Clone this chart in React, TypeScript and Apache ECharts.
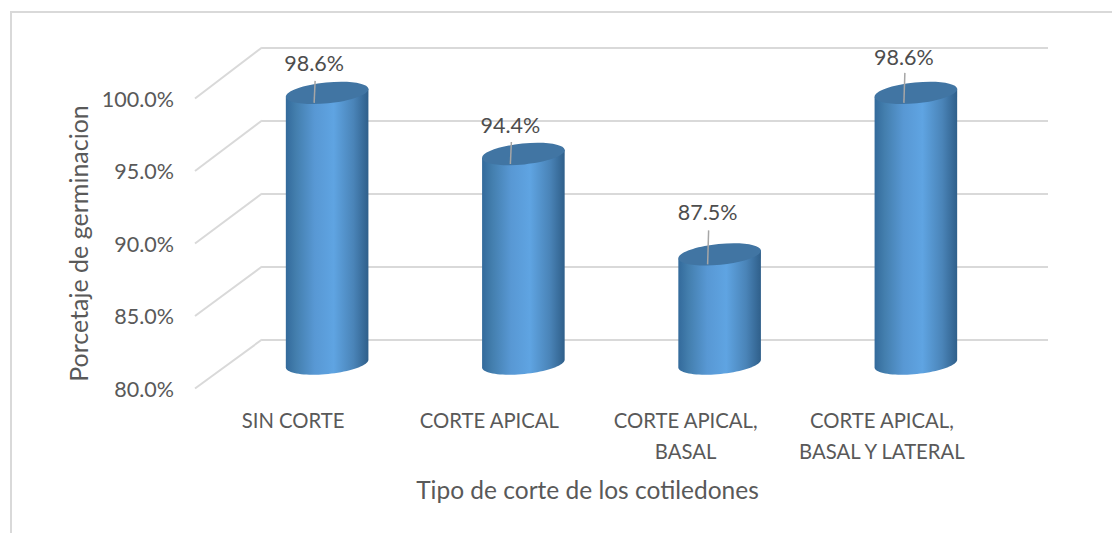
import React, { useEffect, useRef } from "react";
import * as echarts from "echarts";

const categories = ["SIN CORTE", "CORTE APICAL", "CORTE APICAL,\nBASAL", "CORTE APICAL,\nBASAL Y LATERAL"];
const germination = [98.6, 94.4, 87.5, 98.6];
const valueLabels = ["98.6%", "94.4%", "87.5%", "98.6%"];
const wallLevels = [80, 85, 90, 95, 100];
const labelDx = [-13, -13, -12, -12];
const labelDy = [-30, -29, -42, -36];
const leaderTop = [-12, -12, -24, -20];

const FONT = "Lato, 'Open Sans', sans-serif";
const TEXT = "#595959";
const GRID_COLOR = "#d9d9d9";
const FRONT = { left: 195, top: 98.5, width: 785, height: 290 };
const BACK = { left: 262, top: 47.5, width: 786, height: 292 };
const MID = { left: 229, top: 72.5, width: 785, height: 291 };
const RX = 41.5;
const RY = 10.5;
const TILT = 0.1;

function ellipsePoint(cx: number, cy: number, t: number) {
  const ax = RX * Math.cos(t);
  const ay = RY * Math.sin(t);
  return [cx + ax * Math.cos(TILT) + ay * Math.sin(TILT), cy - ax * Math.sin(TILT) + ay * Math.cos(TILT)];
}

function renderBar(params: any, api: any) {
  const i = api.value(0);
  const v = api.value(1);
  const top = api.coord([i, v]);
  const base = api.coord([i, 80]);
  const pts: number[][] = [];
  for (let k = 0; k <= 40; k++) pts.push(ellipsePoint(base[0], base[1], (Math.PI * k) / 40));
  pts.push(ellipsePoint(top[0], top[1], Math.PI));
  pts.push(ellipsePoint(top[0], top[1], 0));
  const lx = top[0] + labelDx[i];
  return {
    type: "group",
    children: [
      {
        type: "polygon",
        shape: { points: pts },
        style: {
          fill: new echarts.graphic.LinearGradient(0, 0, 1, 0, [
            { offset: 0, color: "#336a9b" },
            { offset: 0.12, color: "#437ead" },
            { offset: 0.35, color: "#5898d4" },
            { offset: 0.58, color: "#5fa4e2" },
            { offset: 0.82, color: "#4a84b8" },
            { offset: 1, color: "#2f5f8a" },
          ]),
        },
      },
      {
        type: "ellipse",
        x: top[0],
        y: top[1],
        rotation: TILT,
        shape: { cx: 0, cy: 0, rx: RX, ry: RY },
        style: { fill: "#4175a3" },
      },
      {
        type: "line",
        shape: { x1: lx, y1: top[1] + 10, x2: lx + 1, y2: top[1] + leaderTop[i] },
        style: { stroke: "#a6a6a6", lineWidth: 1.5 },
      },
      {
        type: "text",
        x: lx,
        y: top[1] + labelDy[i],
        style: {
          text: valueLabels[i],
          font: `21.5px ${FONT}`,
          fill: "#4d4d4d",
          align: "center",
          verticalAlign: "middle",
        },
      },
    ],
  };
}

function renderDiagonal(params: any, api: any) {
  const v = api.value(0);
  const back = api.coord([0, v]);
  const frontY = FRONT.top + ((100 - v) / 20) * FRONT.height;
  return {
    type: "line",
    shape: { x1: back[0], y1: back[1], x2: FRONT.left, y2: frontY },
    style: { stroke: GRID_COLOR, lineWidth: 2 },
  };
}

export default function App() {
  const ref = useRef<HTMLDivElement>(null);
  useEffect(() => {
    document.body.style.margin = "0";
    const chart = echarts.init(ref.current!, undefined, { renderer: "svg" });
    chart.setOption({
      animation: false,
      backgroundColor: "#ffffff",
      textStyle: { fontFamily: FONT },
      graphic: [
        {
          type: "polyline",
          shape: { points: [[11, 533], [11, 12], [1112, 12]] },
          style: { stroke: GRID_COLOR, fill: "none", lineWidth: 2 },
          silent: true,
        },
      ],
      grid: [
        { ...FRONT, containLabel: false },
        { ...BACK, containLabel: false },
        { ...MID, containLabel: false },
      ],
      xAxis: [
        {
          type: "category",
          gridIndex: 0,
          data: categories,
          name: "Tipo de corte de los cotiledones",
          nameLocation: "middle",
          nameGap: 88,
          nameTextStyle: { fontSize: 24.5, color: TEXT, fontFamily: FONT },
          axisLine: { show: false },
          axisTick: { show: false },
          axisLabel: { fontSize: 20.3, color: TEXT, margin: 16, lineHeight: 31, fontFamily: FONT, interval: 0 },
        },
        { type: "value", gridIndex: 1, min: 0, max: 1, show: false, splitLine: { show: false } },
        { type: "category", gridIndex: 2, data: categories, show: false },
      ],
      yAxis: [
        {
          type: "value",
          gridIndex: 0,
          min: 80,
          max: 100,
          interval: 5,
          name: "Porcetaje de germinacion",
          nameLocation: "middle",
          nameGap: 104,
          nameRotate: 90,
          nameTextStyle: { fontSize: 25, color: TEXT, fontFamily: FONT },
          axisLine: { show: false },
          axisTick: { show: false },
          splitLine: { show: false },
          axisLabel: {
            fontSize: 21.5,
            color: TEXT,
            margin: 21,
            fontFamily: FONT,
            formatter: (v: number) => v.toFixed(1) + "%",
          },
        },
        {
          type: "value",
          gridIndex: 1,
          min: 80,
          max: 100,
          interval: 5,
          axisLine: { show: false },
          axisTick: { show: false },
          axisLabel: { show: false },
          splitLine: { show: true, lineStyle: { color: GRID_COLOR, width: 2 } },
        },
        { type: "value", gridIndex: 2, min: 80, max: 100, interval: 5, show: false, splitLine: { show: false } },
      ],
      series: [
        {
          type: "custom",
          xAxisIndex: 1,
          yAxisIndex: 1,
          z: 1,
          data: wallLevels.map((v) => [v]),
          encode: { y: 0 },
          renderItem: renderDiagonal,
          silent: true,
        },
        {
          type: "custom",
          xAxisIndex: 2,
          yAxisIndex: 2,
          z: 5,
          data: germination.map((v, i) => [i, v]),
          encode: { x: 0, y: 1 },
          renderItem: renderBar,
          silent: true,
        },
      ],
    });
    return () => chart.dispose();
  }, []);
  return <div ref={ref} style={{ position: "fixed", left: 0, top: 0, width: 1112, height: 533 }} />;
}
